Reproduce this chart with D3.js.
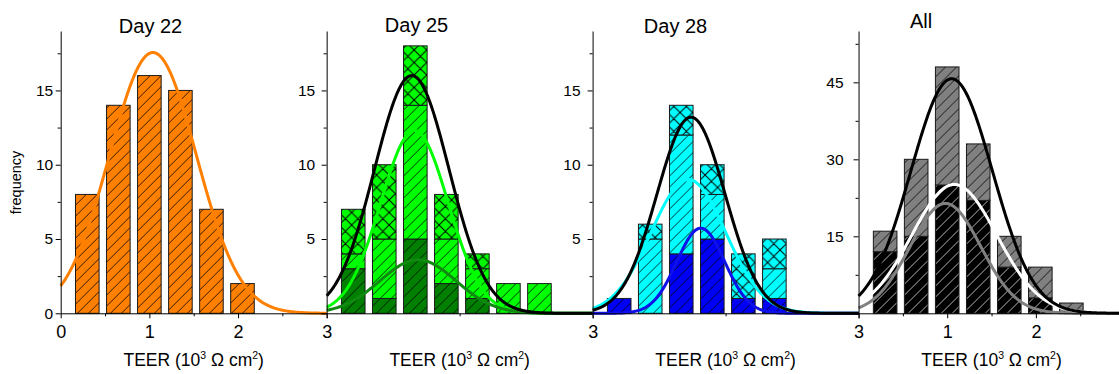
<!DOCTYPE html>
<html>
<head>
<meta charset="utf-8">
<script src="https://cdn.jsdelivr.net/npm/d3@7/dist/d3.min.js"></script>
<style>
  html, body { margin: 0; padding: 0; background: #fff; }
  svg { display: block; font-family: "Liberation Sans", Arial, sans-serif; }
</style>
</head>
<body>
<svg id="chart" width="1119" height="374"></svg>
<script>
// ---- histogram bins (TEER, 10^3 ohm cm^2) ----
const binCenters = [0.30, 0.65, 1.00, 1.35, 1.70, 2.05, 2.40];
const binWidth = 0.266;

// ---- counts per bin ----
const day22      = [8, 14, 16, 15, 7, 2, 0];
const day25Dark  = [3, 1, 5, 2, 1, 0, 0];
const day25Hatch = [1, 4, 9, 3, 2, 2, 2];
const day25Cross = [3, 5, 4, 3, 1, 0, 0];
const day28Dark  = [1, 0, 4, 5, 1, 1, 0];
const day28Hatch = [0, 5, 8, 3, 0, 2, 0];
const day28Cross = [0, 1, 2, 2, 3, 2, 0];
const allLower   = [12, 15, 25, 22, 9, 3, 0];
const allUpper   = [4, 15, 23, 11, 6, 6, 2];

// ---- Gaussian fits: [mean, sd, peak height] ----
const fitDay22      = [1.04, 0.49, 17.55];
const fitDay25Total = [0.96, 0.42, 16.0];
const fitDay25Light = [0.99, 0.38, 12.3];
const fitDay25Dark  = [1.03, 0.43, 3.6];
const fitDay28Total = [1.11, 0.385, 13.2];
const fitDay28Light = [1.08, 0.42, 9.0];
const fitDay28Dark  = [1.22, 0.27, 5.73];
const fitAllTotal   = [1.05, 0.46, 45.7];
const fitAllLower   = [1.08, 0.48, 25.1];
const fitAllUpper   = [0.98, 0.40, 21.4];

// ---- axis ticks and labels ----
const titles = ["Day 22", "Day 25", "Day 28", "All"];
const yMaxes = [19, 19, 19, 55];
const yMajorTicks = [[0, 5, 10, 15], [0, 5, 10, 15], [0, 5, 10, 15], [0, 15, 30, 45]];
const yMinorTicks = [[2.5, 7.5, 12.5, 17.5], [2.5, 7.5, 12.5, 17.5], [2.5, 7.5, 12.5, 17.5], [7.5, 22.5, 37.5, 52.5]];
const yTickLabels = [[0, 5, 10, 15], [5, 10, 15], [5, 10, 15], [15, 30, 45]];
const xMajorTicks = [[0, 1, 2, 3], [0, 3], [0, 3], [0, 1, 2, 3]];
const xMinorTicks = [[0.5, 1.5, 2.5], [1.5], [1.5], [0.5, 1.5, 2.5]];
const xTickLabels = [[0, 1, 2, 3], [3], [3], [1, 2]];

// ---- colours ----
const C = {
  orange: "#ff8000", green: "#00ff00", darkGreen: "#007f00",
  cyan: "#00ffff", blue: "#0000f5", grey: "#808080", black: "#000000"
};

// ---- layout ----
const svg = d3.select("#chart");
const plotLeft = 60.7, panelStep = 265.95, plotW = 266;
const plotTop = 31, plotBottom = 313.3;
const titlePos = [[150.5, 33], [416.5, 32], [675.5, 33], [921, 28]];
const yLabelPad = [2.5, 6.5, 7, 10];

// ---- fill patterns ----
const defs = svg.append("defs");
function hatch(id, color, w) {
  const s = 11;
  const p = defs.append("pattern").attr("id", id)
    .attr("patternUnits", "userSpaceOnUse").attr("width", s).attr("height", s);
  p.append("path").attr("d", `M-2,2 L2,-2 M0,${s} L${s},0 M${s - 2},${s + 2} L${s + 2},${s - 2}`)
    .attr("stroke", color).attr("stroke-width", w).attr("fill", "none");
}
function cross(id, color, w) {
  const s = 12.5;
  const p = defs.append("pattern").attr("id", id)
    .attr("patternUnits", "userSpaceOnUse").attr("width", s).attr("height", s);
  p.append("path").attr("d",
      `M-3,3 L3,-3 M0,${s} L${s},0 M${s - 3},${s + 3} L${s + 3},${s - 3} ` +
      `M-3,${s - 3} L3,${s + 3} M0,0 L${s},${s} M${s - 3},-3 L${s + 3},3`)
    .attr("stroke", color).attr("stroke-width", w).attr("fill", "none");
}
hatch("hatchBlack", "#000", 0.8);
hatch("hatchLight", "#c8c8c8", 0.9);
cross("crossBlack", "#000", 1.0);

// ---- panel definitions (stack order bottom -> top) ----
const panels = [
  { layers: [{ v: day22, fill: C.orange, pat: "hatchBlack" }],
    fits: [{ p: fitDay22, c: C.orange }] },
  { layers: [{ v: day25Dark, fill: C.darkGreen, pat: "hatchBlack" },
             { v: day25Hatch, fill: C.green, pat: "hatchBlack" },
             { v: day25Cross, fill: C.green, pat: "crossBlack" }],
    fits: [{ p: fitDay25Light, c: C.green }, { p: fitDay25Dark, c: "#108a10" },
           { p: fitDay25Total, c: C.black }] },
  { layers: [{ v: day28Dark, fill: C.blue, pat: "hatchBlack" },
             { v: day28Hatch, fill: C.cyan, pat: "hatchBlack" },
             { v: day28Cross, fill: C.cyan, pat: "crossBlack" }],
    fits: [{ p: fitDay28Light, c: C.cyan }, { p: fitDay28Dark, c: "#1010e8" },
           { p: fitDay28Total, c: C.black }] },
  { layers: [{ v: allLower, fill: C.black, pat: "hatchLight" },
             { v: allUpper, fill: C.grey, pat: "hatchBlack" }],
    fits: [{ p: fitAllUpper, c: C.grey }, { p: fitAllLower, c: "#ffffff" },
           { p: fitAllTotal, c: C.black }] }
];

const gauss = (p, t) => p[2] * Math.exp(-((t - p[0]) ** 2) / (2 * p[1] * p[1]));
const samples = d3.range(0, 3.0001, 0.01);

const axesLayer = [];
panels.forEach((panel, i) => {
  const g = svg.append("g").attr("transform", `translate(${plotLeft + i * panelStep},0)`);
  const x = d3.scaleLinear().domain([0, 3]).range([0, plotW]);
  const y = d3.scaleLinear().domain([0, yMaxes[i]]).range([plotBottom, plotTop]);

  // stacked bars
  const base = binCenters.map(() => 0);
  panel.layers.forEach(layer => {
    const segs = layer.v.map((v, k) => ({ c: binCenters[k], y0: base[k], y1: base[k] + v }))
      .filter(s => s.y1 > s.y0);
    layer.v.forEach((v, k) => { base[k] += v; });
    const rx = s => x(s.c - binWidth / 2);
    const rw = x(binWidth) - x(0);
    g.selectAll(null).data(segs).join("rect")
      .attr("x", rx).attr("width", rw)
      .attr("y", s => y(s.y1)).attr("height", s => y(s.y0) - y(s.y1))
      .attr("fill", layer.fill);
    g.selectAll(null).data(segs).join("rect")
      .attr("x", rx).attr("width", rw)
      .attr("y", s => y(s.y1)).attr("height", s => y(s.y0) - y(s.y1))
      .attr("fill", `url(#${layer.pat})`)
      .attr("stroke", "#1a1a1a").attr("stroke-width", 1);
  });

  // fitted curves
  const line = d3.line().x(t => x(t));
  panel.fits.forEach(f => {
    g.append("path").datum(samples)
      .attr("d", line.y(t => y(gauss(f.p, t))))
      .attr("fill", "none").attr("stroke", f.c).attr("stroke-width", 3)
      .attr("stroke-linejoin", "round");
  });

  axesLayer.push({ g, x, y, i });
});

// axes drawn last
axesLayer.forEach(({ g, x, y, i }) => {
  const ax = g.append("g");
  // x axis
  const xa = ax.append("g").attr("transform", `translate(0,${plotBottom})`)
    .call(d3.axisBottom(x).tickValues(xMajorTicks[i]).tickSize(5).tickSizeOuter(0)
      .tickFormat(d => xTickLabels[i].includes(d) ? d : ""));
  xa.selectAll("text").attr("y", 24.4).attr("dy", null)
    .attr("font-size", 18).attr("fill", "#000");
  ax.append("g").attr("transform", `translate(0,${plotBottom})`)
    .call(d3.axisBottom(x).tickValues(xMinorTicks[i]).tickSize(3).tickFormat(""))
    .select(".domain").remove();
  // y axis
  const ya = ax.append("g")
    .call(d3.axisLeft(y).tickValues(yMajorTicks[i]).tickSize(5).tickSizeOuter(0)
      .tickPadding(yLabelPad[i])
      .tickFormat(d => yTickLabels[i].includes(d) ? d : ""));
  ya.selectAll("text").attr("font-size", 15.5).attr("fill", "#000");
  ax.append("g")
    .call(d3.axisLeft(y).tickValues(yMinorTicks[i]).tickSize(3).tickFormat(""))
    .select(".domain").remove();
  ax.selectAll("line, path").attr("stroke", "#000").attr("stroke-width", 1);
  ax.selectAll("g").attr("font-family", null).attr("font-size", null);

  // panel title
  svg.append("text")
    .attr("x", titlePos[i][0]).attr("y", titlePos[i][1])
    .attr("text-anchor", "middle").attr("font-size", 20).text(titles[i]);

  // x axis title with superscripts
  const t = g.append("text").attr("x", x(1.5)).attr("y", 366)
    .attr("text-anchor", "middle").attr("font-size", 17.5);
  t.append("tspan").text("TEER (10");
  t.append("tspan").attr("dy", -7).attr("font-size", 10.5).text("3");
  t.append("tspan").attr("dy", 7).text(" Ω cm");
  t.append("tspan").attr("dy", -7).attr("font-size", 10.5).text("2");
  t.append("tspan").attr("dy", 7).text(")");
});

// shared y axis title
svg.append("text")
  .attr("transform", "translate(20.5,182.5) rotate(-90)")
  .attr("text-anchor", "middle").attr("font-size", 14.5).text("frequency");
</script>
</body>
</html>
